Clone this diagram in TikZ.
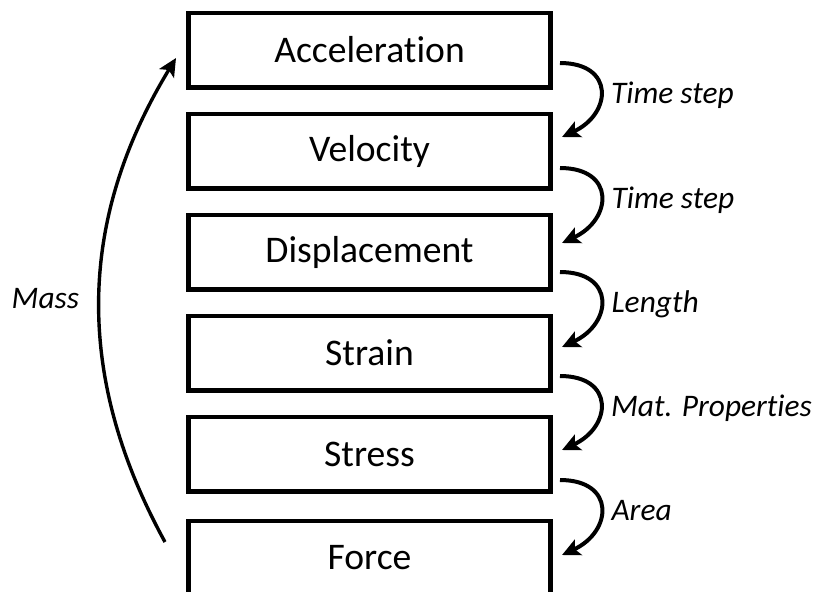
\documentclass[tikz,border=0pt]{standalone}
\usepackage{fontspec}
\setmainfont{Carlito}[Ligatures=NoCommon]
\usetikzlibrary{positioning,arrows.meta}

\begin{document}
\begin{tikzpicture}[node distance=50.5pt,on grid,>={Stealth[length=9pt,width=8.5pt,inset=2pt]},
		quantity/.style={rectangle,draw=black,line width=2.3pt,minimum width=181.2pt,minimum height=37.2pt,inner sep=0pt,font=\fontsize{18.8}{22}\selectfont},
		factor/.style={font=\fontsize{15.7}{19}\selectfont\itshape}]
		\useasboundingbox (0,0) rectangle (407pt,-295.5pt);
		\node[quantity] (acc)    at (184.75pt,-25pt)  {Acceleration};
		\node[quantity] (vel)    [below=of acc]     {Velocity};
		\node[quantity] (disp)   [below=of vel]     {Displacement};
		\node[quantity] (strain) [below=of disp]    {Strain};
		\node[quantity] (stress) [below=of strain]  {Stress};
		\node[quantity] (force)  [below=52pt of stress]  {Force};
		
		% steps down the right side
		\foreach \from/\to/\s/\e/\txt in {acc/vel/6.5/7/Time step,vel/disp/8.5/4.5/Time step,disp/strain/10/3/Length,strain/stress/11.5/2/Mat. Properties,stress/force/13/1.5/Area}
		\draw[->,line width=2pt] ([xshift=3.5pt,yshift=-\s*1pt]\from.east) to[out=0,in=25,looseness=1.9] node[factor,anchor=base west,xshift=1pt,yshift=-6pt] {\txt} ([xshift=4.5pt,yshift=\e*1pt]\to.east);
		
		% back up the left side
		\draw[->,line width=1.7pt] ([xshift=-10.5pt,yshift=8pt]force.west) to[bend left=30] node[factor,left=6pt] {Mass} ([xshift=-5pt,yshift=-4pt]acc.west);
\end{tikzpicture}
\end{document}
